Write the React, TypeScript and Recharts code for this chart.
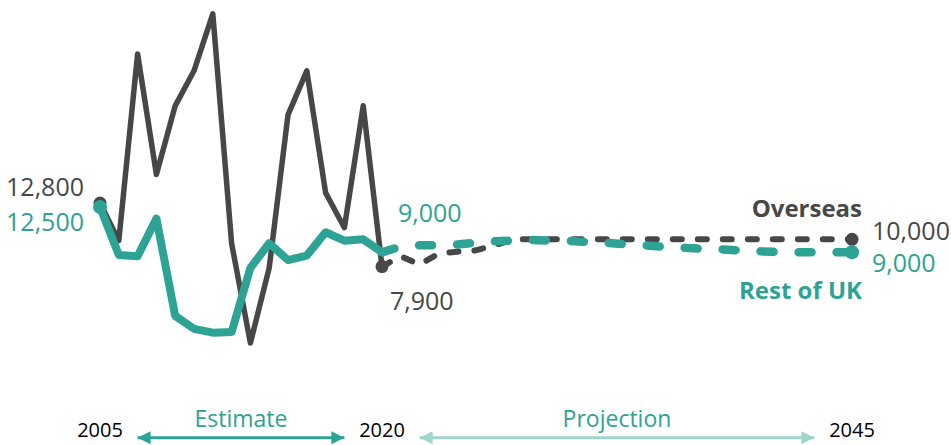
import { LineChart, Line, XAxis, YAxis, ReferenceLine, ReferenceDot } from 'recharts';

const estimateYears = [2005, 2006, 2007, 2008, 2009, 2010, 2011, 2012, 2013, 2014, 2015, 2016, 2017, 2018, 2019, 2020];
const overseasEstimate = [12800, 9900, 24300, 15000, 20300, 23000, 27400, 9700, 2000, 7800, 19600, 23000, 13600, 10900, 20300, 7900];
const restOfUkEstimate = [12500, 8800, 8700, 11600, 4100, 3100, 2800, 2850, 7800, 9700, 8400, 8750, 10550, 9900, 10000, 9000];

const projectionYears = [
  2020, 2021, 2022, 2023, 2024, 2025, 2026, 2027, 2028, 2029, 2030, 2031, 2032,
  2033, 2034, 2035, 2036, 2037, 2038, 2039, 2040, 2041, 2042, 2043, 2044, 2045,
];
const overseasProjection = [
  7900, 8700, 8050, 8900, 9050, 9150, 9550, 10000, 10000, 10000, 10000, 10000, 10000,
  10000, 10000, 10000, 10000, 10000, 10000, 10000, 10000, 10000, 10000, 10000, 10000, 10000,
];
const restOfUkProjection = [
  9000, 9450, 9550, 9550, 9600, 9750, 9850, 9900, 9950, 9900, 9880, 9780, 9720,
  9620, 9540, 9430, 9350, 9280, 9230, 9150, 9080, 9030, 9000, 9000, 9000, 9000,
];

const xTicks = [2005, 2020, 2045];
const estimateSpan = [2007, 2018];
const projectionSpan = [2022, 2043];
const annotationLevel = -5300;

const DARK = '#474747';
const TEAL = '#2ca395';
const LIGHT_TEAL = '#9fd5cc';
const FONT = '"Open Sans", "Noto Sans", sans-serif';

type Row = { year: number; overseasEst?: number; ukEst?: number; overseasProj?: number; ukProj?: number };

const rowMap = new Map<number, Row>();
const rowFor = (year: number) => {
  if (!rowMap.has(year)) rowMap.set(year, { year });
  return rowMap.get(year)!;
};
estimateYears.forEach((y, i) => {
  rowFor(y).overseasEst = overseasEstimate[i];
  rowFor(y).ukEst = restOfUkEstimate[i];
});
projectionYears.forEach((y, i) => {
  rowFor(y).overseasProj = overseasProjection[i];
  rowFor(y).ukProj = restOfUkProjection[i];
});
const data = [...rowMap.values()].sort((a, b) => a.year - b.year);

const fmt = (v: number) => v.toLocaleString('en-US');

const endDots = (color: string, r: number, idx: number[]) => (props: any) => {
  const { cx, cy, index } = props;
  if (!idx.includes(index) || cx == null || cy == null) return <g key={`d-${index}`} />;
  return <circle key={`d-${index}`} cx={cx} cy={cy} r={r} fill={color} />;
};

const textShape =
  (text: string, color: string, anchor: 'start' | 'end' | 'middle', dx: number, dy: number, bold = false, size = 25) =>
  (props: any) => (
    <text
      x={props.cx + dx}
      y={props.cy + dy}
      textAnchor={anchor}
      dominantBaseline="central"
      fill={color}
      fontFamily={FONT}
      fontSize={size}
      fontWeight={bold ? 700 : 400}
    >
      {text}
    </text>
  );

const arrowHead = (color: string, dir: 'left' | 'right') => (props: any) => {
  const { cx, cy } = props;
  const s = dir === 'left' ? 1 : -1;
  return <path d={`M${cx},${cy} l${13 * s},-6.5 l0,13 z`} fill={color} />;
};

const YearTick = (props: any) => {
  const { x, y, payload } = props;
  return (
    <text
      x={x}
      y={y + 60}
      textAnchor="middle"
      dominantBaseline="central"
      fill="#000"
      fontFamily={FONT}
      fontSize={20}
    >
      {payload.value}
    </text>
  );
};

export default function App() {
  const lastP = projectionYears.length - 1;
  const lastE = estimateYears.length - 1;
  return (
    <div style={{ position: 'absolute', left: 0, top: 0, width: 951, height: 445, background: '#fff' }}>
      <LineChart width={951} height={445} data={data} margin={{ top: 6, right: 99, bottom: 0, left: 100 }}>
        <XAxis
          dataKey="year"
          type="number"
          domain={[2005, 2045]}
          ticks={xTicks}
          axisLine={false}
          tickLine={false}
          tickSize={0}
          tickMargin={0}
          height={76}
          tick={<YearTick />}
        />
        <YAxis hide domain={[0, 28000]} />

        <Line
          dataKey="overseasEst"
          stroke={DARK}
          strokeWidth={5.5}
          strokeLinejoin="round"
          strokeLinecap="round"
          dot={endDots(DARK, 6.5, [0, 15])}
          activeDot={false}
          isAnimationActive={false}
        />
        <Line
          dataKey="overseasProj"
          stroke={DARK}
          strokeWidth={6}
          strokeDasharray="9 16"
          strokeLinecap="round"
          dot={endDots(DARK, 6.5, [40])}
          activeDot={false}
          isAnimationActive={false}
        />
        <Line
          dataKey="ukEst"
          stroke={TEAL}
          strokeWidth={8}
          strokeLinejoin="round"
          strokeLinecap="round"
          dot={endDots(TEAL, 7, [0])}
          activeDot={false}
          isAnimationActive={false}
        />
        <Line
          dataKey="ukProj"
          stroke={TEAL}
          strokeWidth={8.5}
          strokeDasharray="13 25"
          strokeLinecap="round"
          dot={endDots(TEAL, 7, [40])}
          activeDot={false}
          isAnimationActive={false}
        />

        <ReferenceDot x={estimateYears[0]} y={overseasEstimate[0]} ifOverflow="visible"
          shape={textShape(fmt(overseasEstimate[0]), DARK, 'end', -16, -17)} />
        <ReferenceDot x={estimateYears[0]} y={restOfUkEstimate[0]} ifOverflow="visible"
          shape={textShape(fmt(restOfUkEstimate[0]), TEAL, 'end', -16, 14)} />
        <ReferenceDot x={estimateYears[lastE]} y={restOfUkEstimate[lastE]} ifOverflow="visible"
          shape={textShape(fmt(restOfUkEstimate[lastE]), TEAL, 'start', 16, -40)} />
        <ReferenceDot x={estimateYears[lastE]} y={overseasEstimate[lastE]} ifOverflow="visible"
          shape={textShape(fmt(overseasEstimate[lastE]), DARK, 'start', 8, 33)} />
        <ReferenceDot x={projectionYears[lastP]} y={overseasProjection[lastP]} ifOverflow="visible"
          shape={textShape(fmt(overseasProjection[lastP]), DARK, 'start', 20, -9)} />
        <ReferenceDot x={projectionYears[lastP]} y={overseasProjection[lastP]} ifOverflow="visible"
          shape={textShape('Overseas', DARK, 'end', 10, -32, true, 24)} />
        <ReferenceDot x={projectionYears[lastP]} y={restOfUkProjection[lastP]} ifOverflow="visible"
          shape={textShape(fmt(restOfUkProjection[lastP]), TEAL, 'start', 20, 10)} />
        <ReferenceDot x={projectionYears[lastP]} y={restOfUkProjection[lastP]} ifOverflow="visible"
          shape={textShape('Rest of UK', TEAL, 'end', 10, 37, true, 24)} />

        <ReferenceLine
          segment={[{ x: estimateSpan[0], y: annotationLevel }, { x: estimateSpan[1], y: annotationLevel }]}
          stroke={TEAL}
          strokeWidth={3}
          ifOverflow="visible"
        />
        <ReferenceDot x={estimateSpan[0]} y={annotationLevel} ifOverflow="visible" shape={arrowHead(TEAL, 'left')} />
        <ReferenceDot x={estimateSpan[1]} y={annotationLevel} ifOverflow="visible" shape={arrowHead(TEAL, 'right')} />
        <ReferenceDot x={(estimateSpan[0] + estimateSpan[1]) / 2} y={annotationLevel} ifOverflow="visible"
          shape={textShape('Estimate', TEAL, 'middle', 0, -20, false, 23)} />

        <ReferenceLine
          segment={[{ x: projectionSpan[0], y: annotationLevel }, { x: projectionSpan[1], y: annotationLevel }]}
          stroke={LIGHT_TEAL}
          strokeWidth={3}
          ifOverflow="visible"
        />
        <ReferenceDot x={projectionSpan[0]} y={annotationLevel} ifOverflow="visible" shape={arrowHead(LIGHT_TEAL, 'left')} />
        <ReferenceDot x={projectionSpan[1]} y={annotationLevel} ifOverflow="visible" shape={arrowHead(LIGHT_TEAL, 'right')} />
        <ReferenceDot x={(projectionSpan[0] + projectionSpan[1]) / 2} y={annotationLevel} ifOverflow="visible"
          shape={textShape('Projection', TEAL, 'middle', 0, -20, false, 23)} />
      </LineChart>
    </div>
  );
}
